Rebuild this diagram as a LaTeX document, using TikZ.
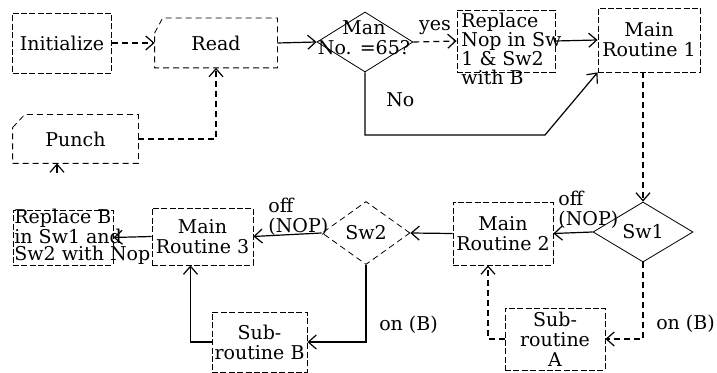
\documentclass[tikz,border=0pt]{standalone}
\usepackage{fontspec}
\setmainfont{DejaVu Serif}
\usepackage{tikz}
\usetikzlibrary{arrows.meta,shapes.geometric,calc}
\tikzset{
  every node/.style={font=\fontsize{9.5}{10}\selectfont},
  box/.style={draw,dash pattern=on 3pt off 1.2pt,align=center,inner sep=1pt},
  dmd/.style={draw,diamond,inner sep=0pt},
  dsh/.style={dash pattern=on 3pt off 2pt},
  lbl/.style={align=left,inner sep=1pt},
  arr/.style={-{Straight Barb[length=4pt,width=7pt]},semithick},
}

\begin{document}
\begin{tikzpicture}[x=0.5pt,y=-0.5pt]
\useasboundingbox (0,0) rectangle (717,373);

% top row
\node[box, minimum width=49.5pt, minimum height=30pt] (init) at (62,43) {Initialize};
\node[minimum width=61pt, minimum height=24.5pt] (rd) at (216,43) {Read};
\draw[dsh] ($(rd.north west)+(0,15)$) -- ($(rd.north west)+(8,0)$) -- (rd.north east)
  -- (rd.south east) -- (rd.south west) -- cycle;
\node[dmd, minimum width=48pt, minimum height=30pt] (man) at (365,42) {};
\node[lbl, align=center] (mantxt) at (364,38) {Man\\No. =65?};
\node[box, minimum width=49pt, minimum height=31pt] (rep) at (506,41) {};
\node[lbl, anchor=north west, font=\fontsize{9.5}{9.5}\selectfont] (reptxt) at (459,11)
  {Replace\\Nop in Sw\\1 \& Sw2\\with B};
\node[box, minimum width=51pt, minimum height=32pt] (mr1) at (649,40) {Main\\Routine 1};
\node[minimum width=62.5pt, minimum height=24pt] (punch) at (75.5,139) {Punch};
\draw[dsh] ($(punch.north west)+(0,13)$) -- ($(punch.north west)+(12,0)$) -- (punch.north east)
  -- (punch.south east) -- (punch.south west) -- cycle;

% lower row
\node[dmd, minimum width=50pt, minimum height=30pt] (sw1) at (643,232) {Sw1};
\node[box, minimum width=50pt, minimum height=31.5pt] (mr2) at (503,233.5) {Main\\Routine 2};
\node[dmd, dsh, minimum width=44pt, minimum height=31.5pt] (sw2) at (366,233) {Sw2};
\node[box, minimum width=50.5pt, minimum height=28.5pt] (mr3) at (202.5,236.5) {Main\\Routine 3};
\node[box, minimum width=50pt, minimum height=27.5pt] (repb) at (63,237.5) {};
\node[lbl, anchor=west, font=\fontsize{9.5}{8.5}\selectfont] (repbtxt) at (12,237)
  {Replace B\\in Sw1 and\\Sw2 with Nop};
\node[box, minimum width=50pt, minimum height=31pt] (suba) at (555,339) {Sub-\\routine\\A};
\node[box, minimum width=47.5pt, minimum height=30pt] (subb) at (259.5,342) {Sub-\\routine B};
\node[lbl, anchor=west] (off1) at (556,210) {off\\(NOP)};
\node[lbl, anchor=west] (off2) at (266,217) {off\\(NOP)};

% connectors
\draw[arr,dsh] (init) -- (rd);
\draw[arr] (rd.east) -- (man.west);
\draw[arr,dsh] (man.east) -- node[above] (yes) {yes} (rep.west);
\draw[arr] (rep.east) -- (mr1.west);
\coordinate (nobend) at (545,135);
\draw[arr] (man.south) |- node[pos=0.22, right=7pt] (no) {No} (nobend) -- (mr1.south west);
\draw[arr,dsh] (punch.east) -| (rd.south);
\coordinate (pin) at (57,173);
\draw[arr] (pin) -- (punch.south -| pin);
\draw[arr,dsh] (mr1.south -| sw1.north) -- (sw1.north);
\draw[arr] (sw1.west) -- (mr2.east);
\draw[arr] (mr2.west) -- (sw2.east);
\draw[arr] (sw2.west) -- (mr3.east);
\draw[arr] (mr3.west) -- (repb.east);
\draw[arr,dsh] (sw1.south) |- node[pos=0.4, right=3pt] (onb1) {on (B)} (suba.east);
\draw[arr,dsh] (suba.west) -| ($(mr2.south)+(-15,0)$);
\draw[arr] (sw2.south) |- node[pos=0.39, right=3pt] (onb2) {on (B)} (subb.east);
\draw[arr] (subb.west) -| ($(mr3.south)+(-12,0)$);

\end{tikzpicture}
\end{document}
